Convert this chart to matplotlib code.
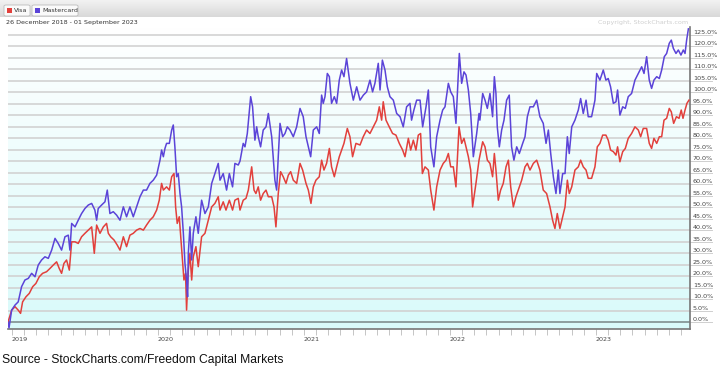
import numpy as np
import matplotlib
matplotlib.use("Agg")
import matplotlib.pyplot as plt
from matplotlib.colors import LinearSegmentedColormap
from matplotlib.patches import FancyBboxPatch, Rectangle
import matplotlib.transforms as mtrans

# years after 1 Jan 2019, % change since 26 Dec 2018
ma_t = [-0.027, -0.020, -0.002, 0.021, 0.043, 0.066, 0.089, 0.112, 0.135, 0.158, 0.180, 0.203,
        0.226, 0.249, 0.272, 0.295, 0.317, 0.340, 0.363, 0.386, 0.397, 0.409, 0.432, 0.454,
        0.477, 0.500, 0.523, 0.546, 0.568, 0.580, 0.591, 0.614, 0.637, 0.653, 0.671, 0.694,
        0.717, 0.740, 0.763, 0.785, 0.808, 0.831, 0.854, 0.877, 0.900, 0.922, 0.945, 0.968,
        0.991, 1.014, 1.025, 1.037, 1.048, 1.059, 1.078, 1.094, 1.105, 1.116, 1.128, 1.139,
        1.151, 1.162, 1.174, 1.185, 1.196, 1.203, 1.208, 1.219, 1.231, 1.242, 1.260, 1.276,
        1.299, 1.322, 1.345, 1.368, 1.390, 1.413, 1.425, 1.447, 1.470, 1.489, 1.511, 1.527,
        1.550, 1.562, 1.584, 1.596, 1.612, 1.635, 1.648, 1.664, 1.676, 1.687, 1.703, 1.721,
        1.740, 1.756, 1.779, 1.801, 1.813, 1.824, 1.836, 1.854, 1.870, 1.886, 1.904, 1.927,
        1.950, 1.973, 1.995, 2.014, 2.030, 2.046, 2.064, 2.087, 2.105, 2.121, 2.132, 2.144,
        2.160, 2.174, 2.189, 2.208, 2.224, 2.242, 2.258, 2.274, 2.292, 2.315, 2.338, 2.361,
        2.384, 2.407, 2.429, 2.452, 2.470, 2.486, 2.509, 2.521, 2.537, 2.555, 2.571, 2.589,
        2.612, 2.635, 2.658, 2.680, 2.703, 2.726, 2.737, 2.753, 2.772, 2.795, 2.813, 2.836,
        2.852, 2.868, 2.890, 2.909, 2.932, 2.950, 2.966, 2.989, 3.005, 3.023, 3.041, 3.064,
        3.080, 3.096, 3.110, 3.126, 3.142, 3.160, 3.183, 3.199, 3.205, 3.224, 3.240, 3.256,
        3.274, 3.292, 3.304, 3.315, 3.324, 3.338, 3.354, 3.370, 3.388, 3.406, 3.422, 3.438,
        3.457, 3.475, 3.498, 3.514, 3.530, 3.548, 3.571, 3.594, 3.616, 3.639, 3.658, 3.674,
        3.690, 3.708, 3.726, 3.742, 3.753, 3.772, 3.788, 3.804, 3.817, 3.834, 3.856, 3.879,
        3.895, 3.913, 3.932, 3.947, 3.970, 3.993, 4.005, 4.027, 4.050, 4.068, 4.084, 4.100,
        4.119, 4.137, 4.148, 4.164, 4.183, 4.201, 4.221, 4.244, 4.267, 4.290, 4.313, 4.329,
        4.347, 4.365, 4.381, 4.397, 4.416, 4.434, 4.450, 4.468, 4.484, 4.502, 4.516, 4.530,
        4.548, 4.564, 4.582, 4.598, 4.610, 4.621, 4.633]
ma_pct = [0.0, -2.5, 5.2, 7.4, 8.8, 15.4, 18.3, 19.0, 21.2, 19.7, 24.8, 27.0,
          28.4, 27.7, 31.3, 36.4, 34.2, 31.3, 37.1, 37.8, 31.3, 42.9, 41.4, 44.3,
          47.2, 49.4, 50.9, 51.6, 48.7, 44.3, 49.4, 50.9, 52.3, 57.4, 47.2, 48.0,
          46.5, 44.3, 50.1, 45.8, 50.1, 45.8, 50.1, 54.5, 57.4, 57.4, 60.3, 61.7,
          63.9, 70.4, 74.8, 71.9, 75.5, 77.7, 77.7, 83.5, 85.7, 76.2, 63.2, 64.6,
          55.9, 50.1, 38.6, 25.5, 18.3, 11.0, 29.9, 41.4, 27.0, 38.6, 45.8, 38.6,
          53.0, 47.2, 50.1, 60.3, 64.6, 69.0, 61.7, 64.6, 57.4, 64.6, 58.8, 69.0,
          68.3, 70.0, 77.7, 76.2, 82.0, 98.0, 93.6, 79.1, 84.9, 80.6, 76.2, 83.5,
          84.9, 90.7, 80.6, 61.7, 57.4, 71.9, 86.4, 80.6, 82.0, 84.9, 83.5, 80.6,
          84.9, 92.9, 89.3, 80.6, 76.2, 71.9, 83.5, 84.9, 82.0, 98.7, 95.1, 98.0,
          108.1, 106.7, 95.1, 98.0, 95.1, 105.2, 109.6, 106.7, 114.6, 103.8, 96.5, 102.3,
          96.5, 98.7, 100.1, 105.2, 100.1, 103.8, 112.5, 100.9, 113.9, 109.6, 102.3, 98.0,
          96.5, 90.7, 89.3, 84.9, 93.6, 95.1, 87.8, 92.2, 96.5, 96.5, 84.9, 93.6,
          100.9, 76.2, 67.5, 80.6, 87.8, 92.2, 93.6, 103.8, 100.1, 98.0, 86.4, 116.8,
          103.8, 108.8, 107.4, 100.9, 90.7, 71.9, 82.0, 90.7, 87.8, 99.4, 96.5, 92.9,
          99.4, 89.3, 106.7, 99.4, 84.9, 76.2, 83.5, 87.8, 96.5, 98.7, 76.2, 70.4,
          76.2, 73.3, 77.7, 80.6, 89.3, 93.6, 93.6, 96.5, 89.3, 86.4, 77.7, 83.5,
          73.3, 63.2, 55.9, 66.1, 55.9, 64.6, 64.6, 80.6, 73.3, 84.9, 87.8, 92.2,
          97.2, 90.7, 96.5, 89.3, 89.3, 96.5, 108.1, 105.2, 109.6, 105.2, 105.9, 102.3,
          95.1, 95.8, 100.9, 90.0, 93.6, 92.9, 98.0, 99.4, 105.2, 108.1, 111.0, 108.1,
          115.4, 105.2, 101.6, 105.2, 106.7, 105.9, 109.6, 115.4, 116.8, 121.2, 122.6, 119.0,
          116.8, 118.3, 116.1, 118.3, 116.8, 122.6, 127.5]

visa_t = [-0.027, -0.002, 0.021, 0.043, 0.059, 0.073, 0.096, 0.119, 0.142, 0.164, 0.187, 0.210,
          0.237, 0.260, 0.283, 0.306, 0.324, 0.340, 0.356, 0.374, 0.393, 0.409, 0.432, 0.454,
          0.477, 0.500, 0.523, 0.546, 0.564, 0.580, 0.603, 0.626, 0.648, 0.660, 0.676, 0.699,
          0.721, 0.740, 0.763, 0.785, 0.808, 0.831, 0.854, 0.877, 0.900, 0.922, 0.945, 0.968,
          0.991, 1.009, 1.025, 1.037, 1.059, 1.078, 1.094, 1.110, 1.121, 1.132, 1.146, 1.158,
          1.169, 1.178, 1.189, 1.196, 1.208, 1.219, 1.231, 1.242, 1.260, 1.276, 1.299, 1.322,
          1.345, 1.368, 1.390, 1.413, 1.425, 1.447, 1.466, 1.489, 1.511, 1.527, 1.550, 1.562,
          1.584, 1.603, 1.619, 1.642, 1.658, 1.671, 1.687, 1.703, 1.721, 1.740, 1.756, 1.779,
          1.795, 1.808, 1.824, 1.840, 1.858, 1.877, 1.893, 1.909, 1.927, 1.950, 1.973, 1.991,
          2.014, 2.030, 2.048, 2.064, 2.082, 2.105, 2.121, 2.137, 2.155, 2.174, 2.189, 2.208,
          2.224, 2.242, 2.258, 2.274, 2.297, 2.315, 2.333, 2.356, 2.384, 2.406, 2.429, 2.452,
          2.475, 2.498, 2.516, 2.532, 2.543, 2.562, 2.584, 2.607, 2.630, 2.653, 2.676, 2.692,
          2.715, 2.731, 2.749, 2.767, 2.783, 2.799, 2.811, 2.829, 2.852, 2.868, 2.890, 2.909,
          2.932, 2.954, 2.973, 2.989, 3.005, 3.023, 3.041, 3.062, 3.080, 3.096, 3.110, 3.126,
          3.142, 3.155, 3.178, 3.199, 3.224, 3.240, 3.256, 3.274, 3.292, 3.304, 3.315, 3.331,
          3.347, 3.365, 3.384, 3.400, 3.416, 3.434, 3.452, 3.468, 3.491, 3.514, 3.530, 3.548,
          3.571, 3.594, 3.616, 3.639, 3.662, 3.685, 3.703, 3.719, 3.735, 3.753, 3.772, 3.788,
          3.804, 3.817, 3.834, 3.856, 3.879, 3.895, 3.913, 3.932, 3.947, 3.970, 3.993, 4.009,
          4.027, 4.046, 4.068, 4.084, 4.100, 4.119, 4.137, 4.148, 4.164, 4.183, 4.201, 4.221,
          4.244, 4.267, 4.290, 4.306, 4.324, 4.347, 4.365, 4.381, 4.397, 4.416, 4.434, 4.450,
          4.466, 4.484, 4.502, 4.516, 4.532, 4.551, 4.569, 4.584, 4.596, 4.610, 4.623, 4.637]
visa_pct = [0.0, 5.2, 6.7, 5.2, 3.8, 8.8, 11.0, 12.5, 15.4, 16.8, 19.7, 21.2,
            21.9, 23.3, 24.8, 26.2, 23.3, 21.2, 25.5, 27.0, 22.6, 34.9, 34.9, 34.2,
            37.1, 38.6, 40.0, 41.4, 29.9, 42.2, 38.6, 41.4, 42.9, 38.6, 37.1, 35.7,
            33.5, 31.3, 37.1, 32.8, 37.8, 38.6, 40.0, 40.7, 40.0, 42.2, 44.3, 45.8,
            48.7, 53.0, 60.3, 57.4, 58.8, 57.4, 63.2, 64.6, 50.1, 42.9, 45.8, 35.7,
            27.0, 18.3, 21.2, 5.2, 22.6, 29.9, 18.3, 28.4, 32.8, 24.1, 37.1, 38.6,
            44.3, 50.1, 51.6, 54.5, 48.7, 52.3, 48.7, 53.0, 48.7, 53.0, 53.8, 48.7,
            53.0, 53.8, 57.4, 67.5, 57.4, 55.9, 58.8, 53.0, 55.9, 57.4, 54.5, 54.5,
            50.1, 41.4, 55.9, 65.4, 63.2, 60.3, 63.9, 65.4, 61.7, 60.3, 69.0, 66.1,
            60.3, 57.4, 51.6, 58.8, 61.7, 63.2, 70.4, 66.1, 69.0, 75.5, 67.5, 63.2,
            67.5, 71.9, 74.8, 77.7, 84.2, 80.6, 71.9, 77.7, 77.0, 80.6, 83.5, 82.0,
            84.9, 87.8, 93.6, 87.8, 95.8, 87.8, 84.9, 82.0, 81.3, 77.7, 74.8, 71.9,
            79.9, 74.8, 79.1, 74.8, 81.3, 82.0, 64.6, 67.5, 66.1, 57.4, 48.7, 58.8,
            66.1, 69.0, 70.4, 73.3, 67.5, 67.5, 58.8, 84.9, 77.7, 79.9, 76.2, 71.9,
            66.1, 50.1, 60.3, 70.4, 78.4, 76.2, 70.4, 69.0, 63.2, 73.3, 66.1, 53.0,
            57.4, 60.3, 67.5, 70.4, 58.8, 50.1, 54.5, 57.4, 61.7, 67.5, 69.0, 66.1,
            69.0, 70.4, 66.1, 57.4, 55.9, 50.1, 44.3, 40.7, 47.2, 40.7, 45.8, 50.1,
            61.7, 55.9, 58.8, 66.1, 67.5, 70.4, 67.5, 66.1, 62.5, 62.5, 67.5, 76.2,
            77.7, 81.3, 81.3, 79.1, 74.8, 74.1, 72.6, 76.2, 69.7, 74.1, 75.5, 79.9,
            82.0, 84.9, 83.5, 80.6, 84.2, 84.2, 77.7, 75.5, 79.9, 77.7, 80.6, 80.6,
            87.8, 88.6, 92.9, 91.4, 86.4, 89.3, 88.6, 92.2, 88.6, 92.2, 95.1, 96.5]

year_labels = ["2019", "2020", "2021", "2022", "2023"]
ma_color = "#5b44d8"
visa_color = "#e2403c"

fig = plt.figure(figsize=(7.2, 3.68), dpi=100)
fig.patch.set_facecolor("white")
W, H = 720, 368

# header band with legend buttons
band = np.linspace(0, 1, 50).reshape(-1, 1)
hax = fig.add_axes([0, 1 - 17 / H, 1, 17 / H])
hax.imshow(band, aspect="auto", cmap=LinearSegmentedColormap.from_list("h", ["#f2f2f2", "#d9d9d9"]),
           extent=[0, 1, 0, 1])
hax.set_axis_off()
for x0, w, col, name in [(4, 26, visa_color, "Visa"), (32, 46, ma_color, "Mastercard")]:
    fig.patches.append(FancyBboxPatch((x0 / W, 1 - 16 / H), w / W, 11 / H,
                                      boxstyle="round,pad=0,rounding_size=0.003",
                                      transform=fig.transFigure, fc="#fafafa", ec="#bdbdbd", lw=0.6))
    fig.patches.append(Rectangle(((x0 + 3) / W, 1 - 12.8 / H), 4.5 / W, 4.5 / H,
                                 transform=fig.transFigure, fc=col, ec="none"))
    fig.text((x0 + 10) / W, 1 - 10.5 / H, name, fontsize=4.6, color="#333333", va="center")

fig.text(6 / W, 1 - 22.5 / H, "26 December 2018 - 01 September 2023", fontsize=4.6,
         color="#333333", va="center")
fig.text(688 / W, 1 - 22.5 / H, "Copyright, StockCharts.com", fontsize=4.6,
         color="#cfcfcf", va="center", ha="right")

ax = fig.add_axes([8 / W, 1 - 329 / H, 682 / W, 302 / H])
x0, x1 = 2018.973, 2023.644
y0, y1 = -3.0, 128.3
grad = np.linspace(0, 1, 200).reshape(-1, 1)
ax.imshow(grad, aspect="auto", extent=[x0, x1, y0, y1], zorder=0,
          cmap=LinearSegmentedColormap.from_list("bg", ["#d9fafa", "#ffffff"]), origin="lower")

yt = np.arange(0, 126, 5)
for v in yt:
    ax.axhline(v, color="#d2d2d2" if v else "#7f8f8f", lw=1.2, zorder=1)
    ax.plot([1.0, 1.032], [v, v], transform=ax.get_yaxis_transform(), color="#cfcfcf",
            lw=0.7, clip_on=False)

ax.plot(2019 + np.array(visa_t), visa_pct, color=visa_color, lw=1.1, zorder=3)
ax.plot(2019 + np.array(ma_t), ma_pct, color=ma_color, lw=1.1, zorder=4)

ax.set_xlim(x0, x1)
ax.set_ylim(y0, y1)
ax.yaxis.tick_right()
ax.set_yticks(yt)
ax.set_yticklabels(["%.1f%%" % v for v in yt])
ax.tick_params(axis="y", length=0, pad=2, labelsize=4.6, labelcolor="#444444")
off = mtrans.ScaledTranslation(0, 3 / 100, fig.dpi_scale_trans)
for lbl in ax.get_yticklabels():
    lbl.set_transform(lbl.get_transform() + off)

years = [int(y) for y in year_labels]
ax.set_xticks(years)
ax.set_xticklabels(year_labels)
ax.set_xticks([y + m / 12 for y in range(2018, 2024) for m in range(12)
               if x0 < y + m / 12 < x1], minor=True)
ax.tick_params(axis="x", which="both", direction="out", length=4, width=0.6, color="#bbbbbb",
               labelsize=4.6, labelcolor="#444444", pad=2)
for lbl in ax.get_xticklabels():
    lbl.set_horizontalalignment("left")

for s in ["top", "left"]:
    ax.spines[s].set_visible(False)
ax.spines["right"].set_color("#777777")
ax.spines["bottom"].set_color("#777777")
ax.spines["right"].set_linewidth(1.2)
ax.spines["bottom"].set_linewidth(1.2)

fig.text(2 / W, 1 - 360 / H, "Source - StockCharts.com/Freedom Capital Markets",
         fontsize=8.7, family="Liberation Sans", color="#111111", va="center")

fig.savefig("out.png", dpi=100, facecolor="white")
